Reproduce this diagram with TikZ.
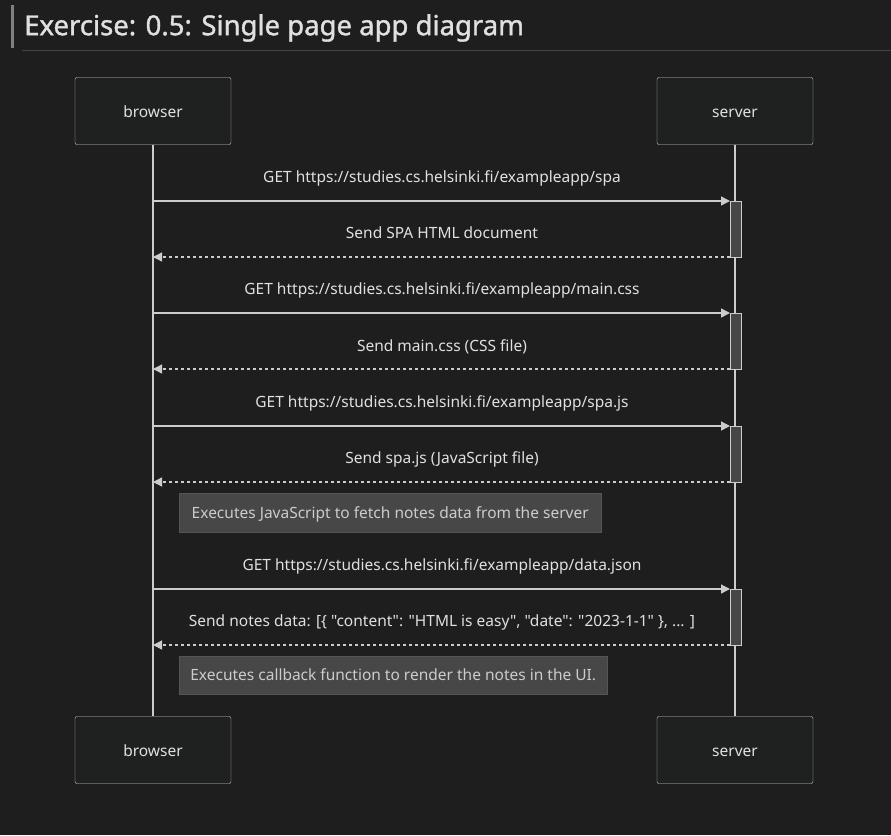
\documentclass[tikz,border=0pt]{standalone}
\usepackage{fontspec}
\setmainfont{Noto Sans}
\newfontfamily\diagfont{Noto Sans}
\newfontfamily\titlefont{Noto Sans}[FakeBold=1.3]
\usetikzlibrary{arrows.meta}
\definecolor{bgdark}{HTML}{1E1E1E}
\definecolor{boxfill}{HTML}{1F2020}
\definecolor{linegray}{HTML}{CCCCCC}
\definecolor{textgray}{HTML}{E0E0E0}
\definecolor{notefill}{HTML}{474747}
\definecolor{noteedge}{HTML}{555555}
\definecolor{titlerule}{HTML}{444444}
\begin{document}
\begin{tikzpicture}[
        x=1pt, y=-1pt,
        actor/.style={draw=linegray, fill=boxfill, rounded corners=2pt, minimum width=156pt, minimum height=67pt, text=textgray, font=\diagfont\fontsize{15.5}{18}\selectfont, text height=0.75em, text depth=0.2em},
        life/.style={draw=linegray, line width=1.3pt},
        msg/.style={text=textgray, font=\diagfont\fontsize{15.5}{18}\selectfont, inner sep=0pt, text height=0.75em, text depth=0.2em, yshift=-3.5pt},
        call/.style={draw=linegray, line width=1.3pt, -{Triangle[length=9pt, width=9pt]}},
        reply/.style={draw=linegray, line width=1.3pt, dash pattern=on 3pt off 3pt, -{Triangle[length=9pt, width=9pt]}},
        activ/.style={draw=linegray, fill=notefill, line width=1pt},
        note/.style={draw=noteedge, fill=notefill, text=linegray, inner sep=0pt, font=\diagfont\fontsize{15.5}{18}\selectfont, text height=0.75em, text depth=0.2em}
    ]
    \fill[bgdark] (0,0) rectangle (891,835);
    \useasboundingbox (0,0) rectangle (891,835);

    % Title
    \fill[gray] (11,5) rectangle (14,48);
    \node (title) [anchor=west, text=textgray, font=\fontsize{27.5}{32}\titlefont, inner sep=0pt] at (24,28) {Exercise: 0.5: Single page app diagram};
    \draw[titlerule, line width=1pt] (22,50) -- (891,50);

    % Nodes
    \node (browser) [actor] at (153,111) {\raisebox{-3.5pt}{browser}};
    \node (server) [actor] at (735,111) {\raisebox{-3.5pt}{server}};
    \node (browserEnd) [actor] at (153,750) {\raisebox{-3.5pt}{browser}};
    \node (serverEnd) [actor] at (735,750) {\raisebox{-3.5pt}{server}};

    % Lifelines
    \draw [life] (browser) -- (browserEnd);
    \draw [life] (server) -- (serverEnd);

    % Activations
    \foreach \top in {201,313,426,589} {
        \draw [activ] (730,\top) rectangle (741,\top+56);
    }

    % Arrow ends
    \foreach \n/\y in {1/201,2/257,3/313,4/369,5/426,6/482,7/589,8/645} {
        \coordinate (b\n) at (153,\y);
        \coordinate (s\n) at (730,\y);
    }

    % Messages
    \node (m1) [msg] at (442,176) {GET https://studies.cs.helsinki.fi/exampleapp/spa};
    \node (m2) [msg] at (442,232) {Send SPA HTML document};
    \node (m3) [msg] at (442,288) {GET https://studies.cs.helsinki.fi/exampleapp/main.css};
    \node (m4) [msg] at (442,345) {Send main.css (CSS file)};
    \node (m5) [msg] at (442,401) {GET https://studies.cs.helsinki.fi/exampleapp/spa.js};
    \node (m6) [msg] at (442,457) {Send spa.js (JavaScript file)};
    \node (m7) [msg] at (442,564) {GET https://studies.cs.helsinki.fi/exampleapp/data.json};
    \node (m8) [msg] at (442,620) {Send notes data: [\{ "content": "HTML is easy", "date": "2023-1-1" \}, ... ]};

    % Notes
    \node (n1) [note, minimum width=422pt, minimum height=39pt, anchor=north west] at (179,493) {\raisebox{-3pt}{Executes JavaScript to fetch notes data from the server}};
    \node (n2) [note, minimum width=428pt, minimum height=38pt, anchor=north west] at (179,656) {\raisebox{-3pt}{Executes callback function to render the notes in the UI.}};

    % Arrows
    \draw [call] (b1) -- (s1);
    \draw [reply] (s2) -- (b2);
    \draw [call] (b3) -- (s3);
    \draw [reply] (s4) -- (b4);
    \draw [call] (b5) -- (s5);
    \draw [reply] (s6) -- (b6);
    \draw [call] (b7) -- (s7);
    \draw [reply] (s8) -- (b8);
\end{tikzpicture}
\end{document}
